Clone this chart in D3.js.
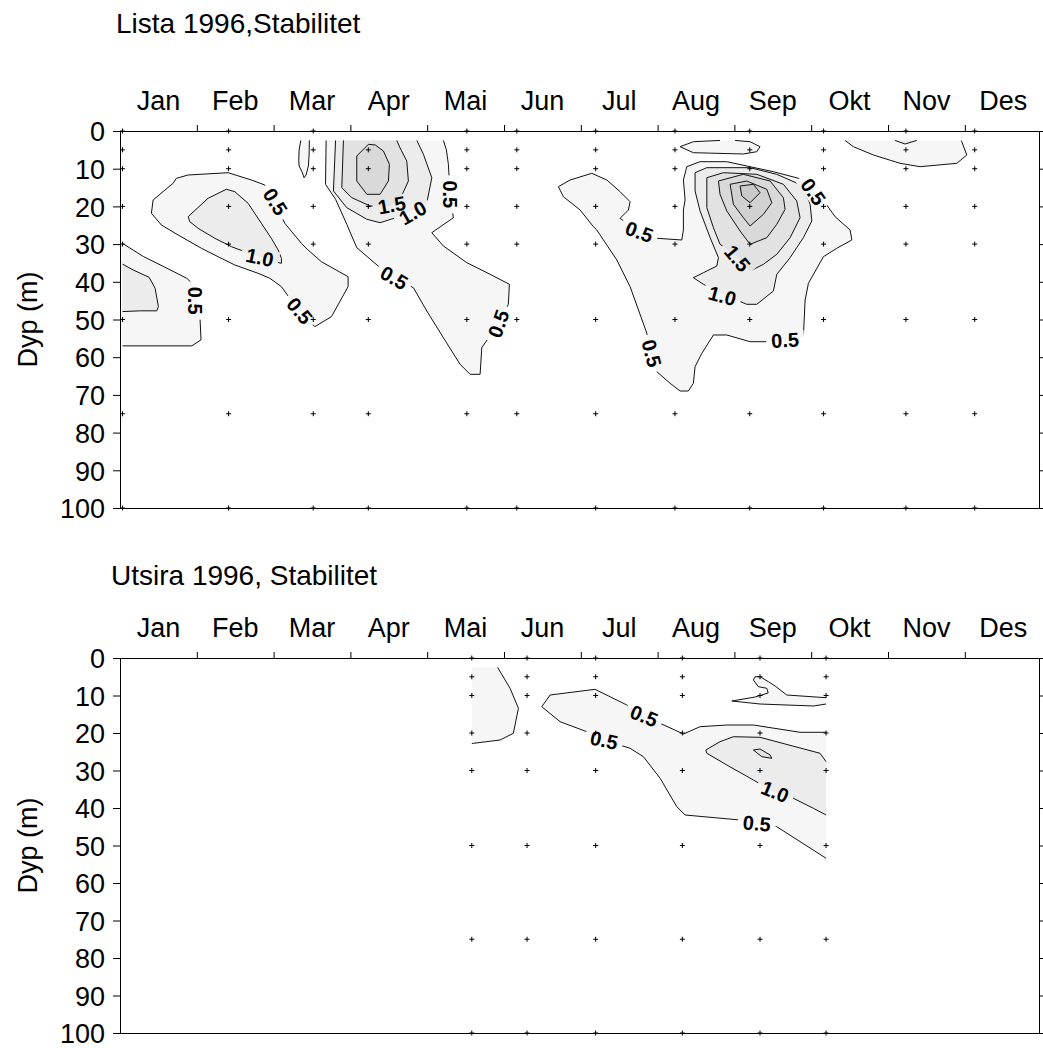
<!DOCTYPE html>
<html>
<head>
<meta charset="utf-8">
<script src="https://cdn.jsdelivr.net/npm/d3@7/dist/d3.min.js"></script>
<style>
    body { margin: 0; background: #fff; }
    text { font-family: Arial, "Liberation Sans", sans-serif; }
</style>
</head>
<body>
<div id="chart"></div>
<script>
// axis labels
var months = ["Jan", "Feb", "Mar", "Apr", "Mai", "Jun", "Jul", "Aug", "Sep", "Okt", "Nov", "Des"];
var depthTicks = [0, 10, 20, 30, 40, 50, 60, 70, 80, 90, 100];

// sampling (station dates and depths)
var listaDates = ["1996-01-02", "1996-02-13", "1996-03-17", "1996-04-08", "1996-05-17", "1996-06-06",
    "1996-07-07", "1996-08-08", "1996-09-07", "1996-10-06", "1996-11-08", "1996-12-05"];
var utsiraDates = ["1996-05-19", "1996-06-10", "1996-07-07", "1996-08-11", "1996-09-11", "1996-10-07"];
var sampleDepths = [0, 5, 10, 20, 30, 50, 75, 100];

// contour levels
var levels = [0.5, 1.0, 1.5, 2.0, 2.5, 3.0];
var levelFills = ["#f6f6f6", "#ececec", "#e2e2e2", "#d9d9d9", "#d1d1d1", "#c9c9c9"];

// Lista contour lines, [month, depth (m)]
var listaJan05 = [[0.032,29.8],[0.305,33.3],[0.611,36.4],[0.872,39.1],[0.913,39.9],[0.99,42.2],[1.04,48.8],[1.055,55.4],[0.935,57.0],[0.032,57.0]];
var listaJan10 = [[0.032,35.3],[0.175,36.9],[0.379,38.8],[0.457,41.7],[0.5,46.6],[0.479,47.7],[0.262,47.7],[0.032,47.9]];
var listaFeb05 = [[1.408,11.06],[0.887,11.67],[0.734,12.55],[0.691,13.87],[0.431,18.3],[0.409,21.83],[0.539,24.93],[0.757,27.59],[1.06,31.11],[1.277,33.34],[1.495,35.54],[1.798,37.75],[1.951,39.07],[2.102,41.3],[2.319,47.48],[2.492,51.0],[2.536,51.9],[2.753,49.26],[2.97,41.3],[2.97,38.65],[2.622,34.67],[2.449,31.56],[2.362,29.79],[2.146,24.48],[2.016,19.18],[1.885,14.32],[1.711,13.0]];
var listaFeb10 = [[1.385,15.46],[1.147,17.85],[0.887,22.73],[0.909,24.06],[1.017,25.81],[1.234,28.46],[1.451,30.69],[1.625,32.02],[1.82,33.5],[2.016,34.67],[2.102,35.09],[2.102,33.77],[2.059,31.56],[1.971,28.46],[1.841,24.48],[1.668,19.18],[1.495,16.1]];
var listaMar05 = [[2.354,2.5],[2.332,5.04],[2.328,7.69],[2.332,9.28],[2.371,10.88],[2.397,12.39],[2.423,11.67],[2.453,9.28],[2.462,6.37],[2.466,2.5]];
var listaApr05 = [[2.684,2.5],[2.676,14.14],[2.807,18.12],[2.953,24.75],[3.083,30.95],[3.387,36.26],[3.556,38.9],[3.82,41.56],[3.995,47.75],[4.211,54.83],[4.428,61.88],[4.559,64.54],[4.689,64.54],[4.711,57.48],[4.923,51.19],[5.057,45.97],[5.07,40.66],[4.819,38.01],[4.516,34.93],[4.211,30.5],[4.06,26.98],[4.341,23.0],[4.298,16.79],[4.276,8.83],[4.25,5.0],[4.211,2.5]];
var listaApr10 = [[2.807,2.5],[2.779,15.92],[2.953,20.34],[3.214,23.42],[3.387,24.32],[3.7,22.3],[3.995,19.02],[4.06,12.39],[3.951,6.18],[3.865,2.5]];
var listaApr15 = [[2.909,2.5],[2.888,15.04],[3.018,17.69],[3.257,19.89],[3.539,19.89],[3.647,18.12],[3.755,13.26],[3.734,7.96],[3.647,4.51],[3.604,2.5]];
var listaApr20 = [[3.234,3.53],[3.083,6.63],[3.083,13.26],[3.214,16.79],[3.387,16.79],[3.495,13.26],[3.508,8.83],[3.43,5.31],[3.324,3.71]];
var listaJul05 = [[5.708,14.77],[5.861,13.0],[6.143,11.22],[6.339,13.0],[6.512,16.1],[6.642,18.75],[6.62,20.95],[6.512,23.16],[6.599,24.48],[6.746,26.71],[6.99,28.46],[7.315,28.91],[7.336,26.26],[7.336,20.95],[7.358,18.3],[7.336,13.0],[7.38,9.47],[7.553,8.14],[7.901,8.14],[8.204,9.47],[8.508,10.8],[8.918,13.0],[9.029,16.1],[9.203,19.63],[9.311,22.73],[9.507,26.26],[9.529,28.91],[9.333,31.11],[9.159,33.34],[8.964,40.4],[8.921,44.83],[8.898,54.56],[8.66,55.44],[8.422,55.89],[8.204,55.89],[7.901,54.11],[7.727,54.11],[7.576,58.97],[7.488,62.52],[7.466,66.92],[7.401,68.97],[7.293,68.97],[7.163,66.92],[6.99,63.85],[6.902,58.97],[6.86,53.66],[6.642,41.3],[6.469,34.22],[6.208,26.26],[6.164,25.38],[5.991,20.95],[5.773,17.43]];
var listaSep10 = [[7.488,11.06],[7.641,9.73],[8.204,9.73],[8.552,11.49],[8.898,14.59],[8.986,19.44],[9.008,23.87],[8.898,28.3],[8.725,33.61],[8.552,38.01],[8.508,42.44],[8.292,45.97],[8.161,45.97],[7.857,43.32],[7.596,40.66],[7.466,38.91],[7.596,37.59],[7.771,35.81],[7.792,33.61],[7.684,28.3],[7.553,21.22],[7.488,15.92]];
var listaSep15 = [[7.641,12.39],[7.857,11.06],[8.292,11.49],[8.638,14.14],[8.812,18.57],[8.855,23.0],[8.725,28.3],[8.552,32.71],[8.378,35.36],[8.204,37.14],[8.031,33.16],[7.813,30.05],[7.727,25.65],[7.641,20.34]];
var listaSep20 = [[7.792,13.26],[8.117,11.49],[8.465,13.26],[8.638,17.69],[8.66,20.77],[8.552,24.75],[8.422,28.3],[8.204,30.05],[8.074,26.53],[7.901,21.22],[7.813,16.79]];
var listaSep25 = [[7.944,14.14],[8.161,13.26],[8.422,15.46],[8.487,19.02],[8.378,22.1],[8.204,25.2],[8.117,23.0],[7.987,19.44]];
var listaSep30 = [[8.074,14.59],[8.247,14.14],[8.334,16.37],[8.204,19.02],[8.096,17.24]];
var listaAug05 = [[8.009,2.5],[8.204,2.84],[8.334,4.16],[8.292,5.49],[8.117,6.1],[7.466,5.76],[7.293,4.16],[7.466,2.84],[7.813,2.5]];
var listaNov05 = [[9.441,2.5],[9.549,4.16],[9.81,6.37],[10.157,8.57],[10.418,9.47],[10.896,8.57],[11.026,6.37],[10.961,2.84],[10.952,2.5]];
var listaNov10 = [[10.092,2.5],[10.222,3.45],[10.375,2.5]];

// Utsira contour lines, [month, depth (m)]
var utsiraMay05 = [[4.917,2.5],[5.079,8.08],[5.188,13.41],[5.122,20.08],[4.949,21.87],[4.602,22.75],[4.581,22.8]];
var utsiraJun05 = [[9.194,19.81],[8.855,19.81],[8.247,17.87],[7.901,17.87],[7.553,18.32],[7.336,20.27],[7.033,17.41],[6.815,15.2],[6.599,12.53],[6.186,8.35],[5.6,9.87],[5.492,12.99],[5.73,16.99],[6.099,19.81],[6.29,21.87],[6.642,24.08],[6.815,26.32],[7.033,32.08],[7.25,39.65],[7.358,41.87],[8.074,43.2],[8.292,44.08],[8.552,44.99],[9.194,53.41]];
var utsiraAug10 = [[9.194,27.65],[9.115,25.41],[8.334,21.15],[7.987,20.99],[7.813,22.32],[7.628,24.53],[7.641,25.41],[7.901,28.53],[8.247,32.53],[8.508,35.65],[8.768,37.41],[9.029,40.08],[9.194,41.87]];
var utsiraSep15 = [[8.247,24.53],[8.334,24.27],[8.465,25.87],[8.487,26.75],[8.357,26.32]];
var utsiraSep05 = [[9.194,10.59],[8.682,9.87],[8.53,7.47],[8.443,6.32],[8.334,4.99],[8.269,4.99],[8.247,5.87],[8.312,7.65],[8.422,8.08],[8.44,9.33],[8.27,10.4],[7.966,11.47],[8.334,12.27],[9.029,12.8],[9.194,12.27]];

// contour labels [month, depth, angle, text]
var listaLabels = [[0.978,45.0,90,"0.5"],[2.023,18.75,58,"0.5"],[2.341,47.66,50,"0.5"],[1.82,33.5,12,"1.0"],
    [3.569,38.9,30,"0.5"],[4.927,51.1,-70,"0.5"],[4.298,16.8,90,"0.5"],[3.812,21.67,-30,"1.0"],[3.539,19.6,-10,"1.5"],
    [6.763,26.7,20,"0.5"],[9.029,16.1,55,"0.5"],[8.04,33.77,50,"1.5"],[7.844,43.7,15,"1.0"],[8.66,55.44,-3,"0.5"],[6.924,58.97,75,"0.5"]];
var utsiraLabels = [[6.824,15.38,22,"0.5"],[6.303,21.87,12,"0.5"],[8.53,35.64,22,"1.0"],[8.292,44.08,5,"0.5"]];

// contour tables: level, points, open (touches data edge), extra corner points for fill
var listaContours = [
    {level: 0.5, pts: listaJan05, open: true, corners: []},
    {level: 0.5, pts: listaFeb05, open: false, corners: []},
    {level: 0.5, pts: listaMar05, open: true, corners: []},
    {level: 0.5, pts: listaApr05, open: true, corners: []},
    {level: 0.5, pts: listaJul05, open: false, corners: []},
    {level: 0.5, pts: listaAug05, open: true, corners: []},
    {level: 0.5, pts: listaNov05, open: true, corners: []},
    {level: 1.0, pts: listaJan10, open: true, corners: []},
    {level: 1.0, pts: listaFeb10, open: false, corners: []},
    {level: 1.0, pts: listaApr10, open: true, corners: []},
    {level: 1.0, pts: listaSep10, open: false, corners: []},
    {level: 1.0, pts: listaNov10, open: true, corners: []},
    {level: 1.5, pts: listaApr15, open: true, corners: []},
    {level: 1.5, pts: listaSep15, open: false, corners: []},
    {level: 2.0, pts: listaApr20, open: false, corners: []},
    {level: 2.0, pts: listaSep20, open: false, corners: []},
    {level: 2.5, pts: listaSep25, open: false, corners: []},
    {level: 3.0, pts: listaSep30, open: false, corners: []}
];
var utsiraContours = [
    {level: 0.5, pts: utsiraMay05, open: true, corners: [[4.581, 2.5]]},
    {level: 0.5, pts: utsiraJun05, open: true, corners: []},
    {level: 0.5, pts: utsiraSep05, open: true, corners: []},
    {level: 1.0, pts: utsiraAug10, open: true, corners: []},
    {level: 1.5, pts: utsiraSep15, open: false, corners: []}
];

// dato -> måned (brøk)
function monthPos(s) {
    var d = new Date(s + "T00:00:00Z");
    var mo = d.getUTCMonth();
    var dim = new Date(Date.UTC(d.getUTCFullYear(), mo + 1, 0)).getUTCDate();
    return mo + (d.getUTCDate() - 1) / dim;
}

var width = 1043, height = 1048;
var left = 120, right = 1039;
var svg = d3.select("#chart")
    .append("svg")
    .attr("width", width)
    .attr("height", height);

var x = d3.scaleLinear()
    .domain([0, 12])
    .range([left, left + 12 * 76.8]);

var panels = [
    {id: "p1", title: "Lista 1996,Stabilitet", titleX: 116, titleY: 33, top: 131, bottom: 508,
        dates: listaDates, contours: listaContours, labels: listaLabels, skip: ["1996-04-08|0"]},
    {id: "p2", title: "Utsira 1996, Stabilitet", titleX: 111, titleY: 585, top: 658, bottom: 1033,
        dates: utsiraDates, contours: utsiraContours, labels: utsiraLabels, skip: []}
];

panels.forEach(function (p) {
    var y = d3.scaleLinear()
        .domain([0, 100])
        .range([p.top, p.bottom]);
    var line = d3.line()
        .x(function (d) { return x(d[0]); })
        .y(function (d) { return y(d[1]); });
    var g = svg.append("g");

    //tittel
    g.append("text")
        .attr("x", p.titleX)
        .attr("y", p.titleY)
        .attr("font-size", "28px")
        .text(p.title);

    //fylte konturer, lavest nivå først
    var sorted = p.contours.slice().sort(function (a, b) { return a.level - b.level; });
    g.append("g")
        .selectAll("path")
        .data(sorted)
        .enter()
        .append("path")
        .attr("d", function (c) { return line(c.pts.concat(c.corners)) + "Z"; })
        .attr("fill", function (c) { return levelFills[levels.indexOf(c.level)]; })
        .attr("stroke", "none");

    //maske for å kutte linjene under etikettene
    var mask = svg.append("defs").append("mask").attr("id", "mask-" + p.id);
    mask.append("rect")
        .attr("x", 0).attr("y", 0)
        .attr("width", width).attr("height", height)
        .attr("fill", "white");
    mask.selectAll("rect.hole")
        .data(p.labels)
        .enter()
        .append("rect")
        .attr("class", "hole")
        .attr("x", -19).attr("y", -9)
        .attr("width", 38).attr("height", 18)
        .attr("fill", "black")
        .attr("transform", function (d) {
            return "translate(" + x(d[0]) + "," + y(d[1]) + ") rotate(" + d[2] + ")";
        });

    //konturlinjer
    g.append("g")
        .attr("mask", "url(#mask-" + p.id + ")")
        .selectAll("path")
        .data(p.contours)
        .enter()
        .append("path")
        .attr("d", function (c) { return line(c.pts) + (c.open ? "" : "Z"); })
        .attr("fill", "none")
        .attr("stroke", "#111")
        .attr("stroke-width", 1);

    //etiketter
    g.append("g")
        .selectAll("text")
        .data(p.labels)
        .enter()
        .append("text")
        .attr("transform", function (d) {
            return "translate(" + x(d[0]) + "," + y(d[1]) + ") rotate(" + d[2] + ")";
        })
        .attr("text-anchor", "middle")
        .attr("dy", "0.36em")
        .attr("font-size", "20px")
        .attr("font-weight", "bold")
        .text(function (d) { return d[3]; });

    //prøvepunkter
    var pts = [];
    p.dates.forEach(function (dt) {
        sampleDepths.forEach(function (dep) {
            if (p.skip.indexOf(dt + "|" + dep) < 0) pts.push([monthPos(dt), dep]);
        });
    });
    g.append("g")
        .selectAll("path")
        .data(pts)
        .enter()
        .append("path")
        .attr("d", function (d) {
            var cx = x(d[0]), cy = y(d[1]);
            return "M" + (cx - 2.5) + "," + cy + "H" + (cx + 2.5) + "M" + cx + "," + (cy - 2.5) + "V" + (cy + 2.5);
        })
        .attr("stroke", "#000")
        .attr("stroke-width", 1);

    //akser
    var yAxis = g.append("g")
        .attr("transform", "translate(" + left + ",0)")
        .call(d3.axisLeft(y).tickValues(depthTicks).tickSize(7).tickPadding(8));
    yAxis.select(".domain").remove();
    yAxis.selectAll("text").attr("font-size", "27px").attr("font-family", "Arial, 'Liberation Sans', sans-serif").attr("dy", "0.36em");

    var xAxis = g.append("g")
        .attr("transform", "translate(0," + p.top + ")")
        .call(d3.axisTop(x).tickValues(d3.range(1, 12)).tickSize(6).tickFormat(""));
    xAxis.select(".domain").remove();

    var rAxis = g.append("g")
        .attr("transform", "translate(" + right + ",0)")
        .call(d3.axisRight(y).tickValues(depthTicks).tickSize(4).tickFormat(""));
    rAxis.select(".domain").remove();

    g.append("rect")
        .attr("x", left)
        .attr("y", p.top)
        .attr("width", right - left)
        .attr("height", p.bottom - p.top)
        .attr("fill", "none")
        .attr("stroke", "#000")
        .attr("stroke-width", 1)
        .attr("shape-rendering", "crispEdges");

    //månedsnavn
    g.append("g")
        .selectAll("text")
        .data(months)
        .enter()
        .append("text")
        .attr("x", function (d, i) { return x(i + 0.5); })
        .attr("y", p.top - 21)
        .attr("text-anchor", "middle")
        .attr("font-size", "27px")
        .text(function (d) { return d; });

    //y-aksetittel
    g.append("text")
        .attr("transform", "translate(37," + ((p.top + p.bottom) / 2) + ") rotate(-90)")
        .attr("text-anchor", "middle")
        .attr("font-size", "27px")
        .text("Dyp (m)");
});
</script>
</body>
</html>
